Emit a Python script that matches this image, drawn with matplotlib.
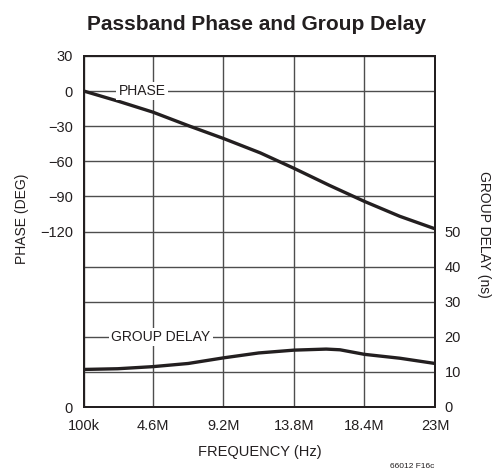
import matplotlib
matplotlib.use("Agg")
import matplotlib.pyplot as plt

# Arial-metric sans for the datasheet look
FAM = "Liberation Sans"
plt.rcParams["font.family"] = [FAM, "DejaVu Sans"]

# Frequency in MHz
phase_freq = [0.1, 2.3, 4.6, 7.0, 9.2, 11.6, 13.8, 16.1, 18.4, 20.7, 23.0]
phase_deg = [0, -8.5, -18, -30, -40.5, -52.8, -66, -80.5, -94.3, -107, -117.7]

gd_freq = [0.1, 2.3, 4.6, 6.9, 9.2, 11.5, 13.8, 15.9, 16.8, 18.4, 20.7, 23.0]
gd_ns = [10.7, 10.9, 11.5, 12.4, 14.0, 15.4, 16.2, 16.5, 16.3, 15.0, 13.9, 12.4]

x_ticks = [0.1, 4.6, 9.2, 13.8, 18.4, 23.0]
x_labels = ["100k", "4.6M", "9.2M", "13.8M", "18.4M", "23M"]

phase_ticks = [30, 0, -30, -60, -90, -120, -150, -180, -210, -240, -270]
phase_labels = ["30", "0", "\u221230", "\u221260", "\u221290", "\u2212120", "", "", "", "", "0"]

gd_ticks = [0, 10, 20, 30, 40, 50, 60, 70, 80, 90, 100]
gd_labels = ["0", "10", "20", "30", "40", "50", "", "", "", "", ""]

W, H = 499, 476
fig = plt.figure(figsize=(W / 100, H / 100), dpi=100)
ax = fig.add_axes([84 / W, 1 - 407 / H, (435 - 84) / W, (407 - 56) / H])
ax2 = ax.twinx()

ink = "#231f20"
ax.set_xlim(0.1, 23.0)
ax.set_ylim(-270, 30)
ax2.set_ylim(0, 100)

ax.set_xticks(x_ticks)
ax.set_xticklabels(x_labels)
ax.set_yticks(phase_ticks)
ax.set_yticklabels(phase_labels)
ax2.set_yticks(gd_ticks)
ax2.set_yticklabels(gd_labels)

ax.grid(True, color="#4d4d4d", linewidth=1.0)
ax.set_axisbelow(True)
for a in (ax, ax2):
    a.tick_params(length=0, labelsize=10.5, colors=ink)
    for s in a.spines.values():
        s.set_linewidth(1.4)
        s.set_color(ink)
ax.tick_params(axis="y", pad=8)
ax2.tick_params(axis="y", pad=7)
ax.tick_params(axis="x", pad=9)

ax.plot(phase_freq, phase_deg, color=ink, linewidth=2.4, solid_capstyle="butt", zorder=3)
ax2.plot(gd_freq, gd_ns, color=ink, linewidth=2.4, solid_capstyle="butt", zorder=3)

box = dict(facecolor="white", edgecolor="none", pad=1.5)
ax.text(3.88, 0, "PHASE", ha="center", va="center", fontsize=10, color=ink, bbox=box, zorder=4)
ax2.text(5.12, 20, "GROUP DELAY", ha="center", va="center", fontsize=10, color=ink, bbox=box, zorder=4)

fig.text(256.5 / W, 1 - 24 / H, "Passband Phase and Group Delay", ha="center", va="center",
         fontsize=15, fontweight="bold", color=ink)
fig.text(22 / W, 1 - 219 / H, "PHASE (DEG)", rotation=90, ha="center", va="center",
         fontsize=10, color=ink)
fig.text(484 / W, 1 - 234 / H, "GROUP DELAY (ns)", rotation=-90, ha="center", va="center",
         fontsize=10, color=ink)
fig.text(259.5 / W, 1 - 452 / H, "FREQUENCY (Hz)", ha="center", va="center",
         fontsize=10.5, color=ink)
fig.text(412 / W, 1 - 466 / H, "66012 F16c", ha="center", va="center",
         fontsize=6, color=ink)

fig.savefig("out.png", dpi=100)
